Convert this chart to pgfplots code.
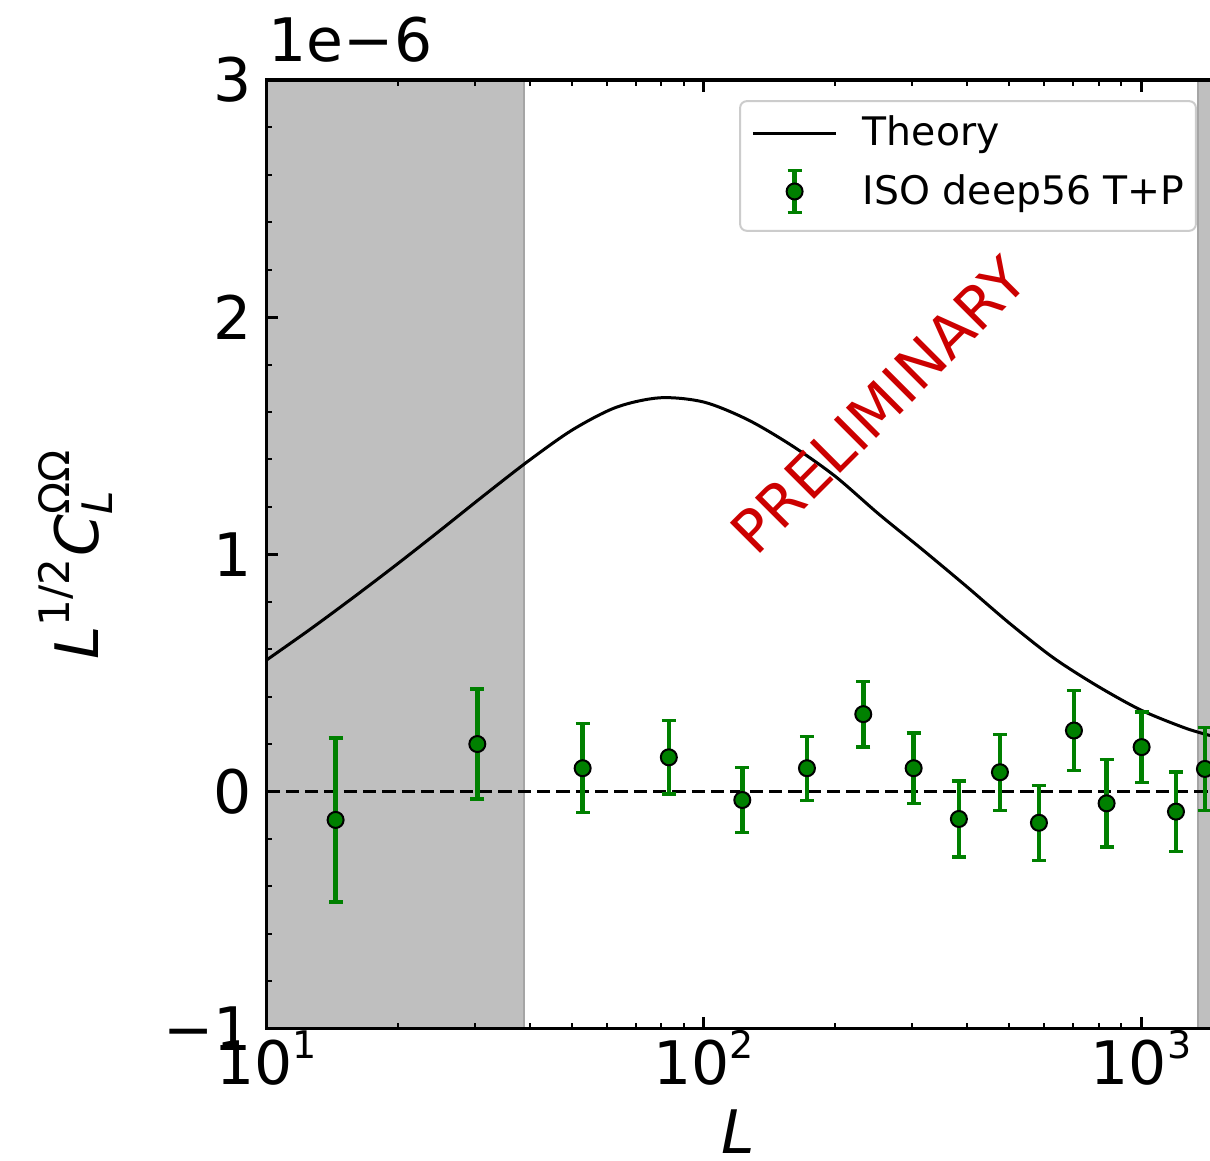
\documentclass[border=0pt]{standalone}
\usepackage{fontspec}
\setmainfont{DejaVu Sans}
\usepackage{amsmath}
\usepackage{pgfplots}
\pgfplotsset{compat=1.18}
\definecolor{mplgreen}{RGB}{0,128,0}
\definecolor{prelim}{RGB}{204,0,0}
\definecolor{shade}{RGB}{191,191,191}
\definecolor{shadeedge}{RGB}{165,165,165}
\definecolor{legedge}{RGB}{204,204,204}
\newcommand{\tenpow}[1]{10\raisebox{0.43em}{\fontsize{11.4}{12}\selectfont #1}}
\begin{document}
\begin{tikzpicture}
\begin{axis}[
  xmode=log, log basis x=10,
  scale only axis, width=301.85pt, height=284.6pt,
  xmin=10, xmax=2000, ymin=-1, ymax=3,
  axis on top,
  axis line style={line width=1pt},
  xtick={10,100,1000},
  xticklabels={\tenpow{1},\tenpow{2},\tenpow{3}},
  minor xtick={20,30,40,50,60,70,80,90,200,300,400,500,600,700,800,900,2000},
  ytick={-1,0,1,2,3},
  yticklabels={−1,0,1,2,3},
  minor y tick num=4,
  tick align=inside,
  major tick length=3.6pt, minor tick length=1.8pt,
  major tick style={line width=0.9pt, black},
  minor tick style={line width=0.6pt, black},
  ticklabel style={font=\fontsize{18}{21.6}\selectfont, inner sep=0pt},
  xticklabel style={anchor=north, yshift=-0.4pt},
  yticklabel style={anchor=east, xshift=-4.2pt},
  xlabel={\textit{L}},
  xlabel style={at={([yshift=-37.4pt]axis cs:119.7,-1)}, anchor=base, font=\fontsize{18}{21.6}\selectfont, inner sep=0pt},
  ylabel={$\textit{L}^{\text{1/2}}\textit{C}^{\text{ΩΩ}}_{\textit{L}}$},
  ylabel style={at={(rel axis cs:-0.1673,0.5)}, anchor=base, rotate=0, font=\fontsize{18}{21.6}\selectfont, inner sep=0pt},
  legend cell align=left,
  legend style={at={(axis cs:1342,2.915)}, anchor=north east,
    font=\fontsize{11.8}{14}\selectfont,
    draw=legedge, line width=0.6pt, rounded corners=2pt, fill=white,
    inner xsep=3.4pt, inner ysep=4.8pt, row sep=5.7pt,
    nodes={inner xsep=0pt, inner ysep=0pt, text height=8.6pt, text depth=1pt}},
]
% excluded multipole ranges
\addplot[fill=shade, draw=shadeedge, line width=0.5pt, forget plot]
  coordinates {(10,-1) (38.8,-1) (38.8,3) (10,3)} -- cycle;
\addplot[fill=shade, draw=shadeedge, line width=0.5pt, forget plot]
  coordinates {(1349,-1) (2000,-1) (2000,3) (1349,3)} -- cycle;
% zero line
\addplot[black, line width=0.9pt, dash pattern=on 4pt off 1.8pt, forget plot]
  coordinates {(10,0) (2000,0)};
% theory
\addplot[black, line width=0.9pt, smooth,
  legend image code/.code={\draw[black, line width=0.9pt] (0pt,0pt) -- (25pt,0pt); \path[draw=none,fill=none] (0pt,0pt) -- (33pt,0pt);}]
  coordinates {
  (10,0.554) (12.59,0.684) (15.85,0.820) (19.95,0.960) (25.12,1.105)
  (31.62,1.252) (39.81,1.395) (50.12,1.525) (63.10,1.620) (79.43,1.660)
  (100,1.642) (125.9,1.568) (158.5,1.460) (199.5,1.330) (251.2,1.170)
  (316.2,1.020) (398.1,0.866) (501.2,0.708) (631,0.563) (794.3,0.445)
  (1000,0.343) (1259,0.268) (1438,0.236)};
\addlegendentry{Theory}
% data
\addplot[only marks, mark=*, mark size=2.4pt,
  mark options={fill=mplgreen, draw=black, line width=0.6pt},
  legend image code/.code={
    \draw[mplgreen, line width=1.4pt] (12.5pt,-6.3pt) -- (12.5pt,6.3pt);
    \draw[mplgreen, line width=1pt] (10.4pt,-6.3pt) -- (14.6pt,-6.3pt) (10.4pt,6.3pt) -- (14.6pt,6.3pt);
    \filldraw[fill=mplgreen, draw=black, line width=0.6pt] (12.5pt,0pt) circle (2.4pt);
    \path[draw=none,fill=none] (0pt,0pt) -- (33pt,0pt);},
  error bars/.cd, y dir=both, y explicit,
  error bar style={draw=mplgreen, line width=1.4pt},
  error mark options={draw=mplgreen, line width=1pt, mark size=2.1pt, rotate=90}]
  coordinates {
  (14.39,-0.120) +- (0,0.346)
  (30.35,0.200) +- (0,0.232)
  (52.85,0.098) +- (0,0.188)
  (83.2,0.144) +- (0,0.155)
  (122.5,-0.036) +- (0,0.137)
  (172.2,0.098) +- (0,0.135)
  (231.6,0.326) +- (0,0.138)
  (302,0.098) +- (0,0.149)
  (383.3,-0.116) +- (0,0.160)
  (475.7,0.081) +- (0,0.160)
  (584.2,-0.132) +- (0,0.158)
  (702.4,0.257) +- (0,0.168)
  (834.2,-0.050) +- (0,0.184)
  (1003,0.187) +- (0,0.148)
  (1202,-0.085) +- (0,0.167)
  (1400,0.095) +- (0,0.176)};
\addlegendentry{ISO deep56 T+P}
\node[rotate=45, text=prelim, font=\fontsize{17.6}{20}\selectfont, inner sep=0pt] at (axis cs:251.6,1.629) {PRELIMINARY};
\coordinate (SW) at (rel axis cs:0,0);
\coordinate (NW) at (rel axis cs:0,1);
\coordinate (R) at (axis cs:1438,3);
\end{axis}
\node[anchor=base west, font=\fontsize{18}{21.6}\selectfont, inner sep=0pt] at ([xshift=0.5pt,yshift=5.5pt]NW) {1e−6};
\pgfresetboundingbox
\path[use as bounding box] ([xshift=-79.95pt,yshift=-39.7pt]SW) rectangle ([yshift=24pt]R);
\end{tikzpicture}
\end{document}
